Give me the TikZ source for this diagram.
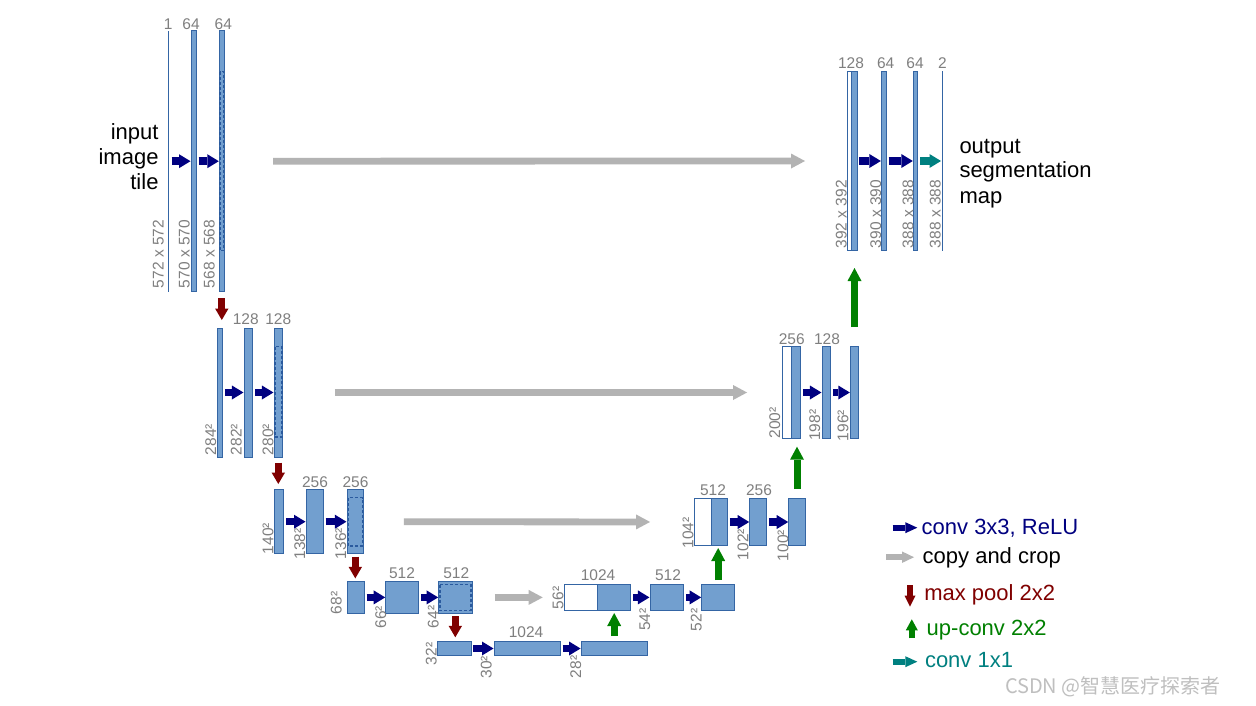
\documentclass[tikz,border=0pt]{standalone}
\usepackage{fontspec}
\setmainfont{Liberation Sans}
\newfontfamily\cjkfont{Noto Sans CJK SC}
\usetikzlibrary{arrows.meta}
\definecolor{barfill}{HTML}{729FCF}
\definecolor{barline}{HTML}{3465A4}
\definecolor{cropline}{HTML}{2A5A9E}
\definecolor{labgray}{HTML}{7F7F7F}
\definecolor{cpgray}{HTML}{B3B3B3}
\definecolor{cnavy}{HTML}{000080}
\definecolor{cred}{HTML}{800000}
\definecolor{cgreen}{HTML}{008000}
\definecolor{cteal}{HTML}{008080}
\begin{document}
\begin{tikzpicture}[x=1pt,y=-1pt,
  every node/.style={inner sep=0pt,outer sep=0pt},
  blk/.style={draw=barline,fill=barfill,line width=0.9pt},
  wblk/.style={draw=barline,fill=white,line width=0.9pt},
  thinbar/.style={fill=barline,draw=none,minimum width=1.6pt},
  cropbox/.style={draw=cropline,line width=1.4pt,dash pattern=on 3pt off 2pt},
  lab/.style={text=labgray,font=\fontsize{15.5}{18}\selectfont},
  vlab/.style={lab,rotate=90,anchor=base west},
  toplab/.style={lab,anchor=base},
  big/.style={font=\fontsize{22}{25}\selectfont},
  conv/.style={draw=cnavy,line width=7.5pt,-{Triangle[length=11.5pt,width=14pt,line width=0pt]},shorten <=2.5pt,shorten >=0.5pt},
  convone/.style={draw=cteal,line width=7.5pt,-{Triangle[length=11.5pt,width=14pt,line width=0pt]},shorten <=2.5pt,shorten >=0.5pt},
  copyc/.style={draw=cpgray,line width=6.8pt,-{Triangle[length=14pt,width=15pt,line width=0pt]}},
  pool/.style={draw=cred,line width=7pt,-{Triangle[length=11.5pt,width=13.5pt,line width=0pt]}},
  upc/.style={draw=cgreen,line width=7pt,-{Triangle[length=13pt,width=14pt,line width=0pt]}},
  lgconv/.style={draw=cnavy,line width=6pt,-{Triangle[length=12pt,width=11pt,line width=0pt]}},
  lgone/.style={draw=cteal,line width=6pt,-{Triangle[length=12pt,width=11pt,line width=0pt]}},
  lgcopy/.style={draw=cpgray,line width=6pt,-{Triangle[length=12pt,width=11.5pt,line width=0pt]}},
  lgpool/.style={draw=cred,line width=5.5pt,-{Triangle[length=11pt,width=11pt,line width=0pt]}},
  lgup/.style={draw=cgreen,line width=6pt,-{Triangle[length=11pt,width=12pt,line width=0pt]}},
]
\fill[white] (0,0) rectangle (1256,706);
\useasboundingbox (0,0) rectangle (1256,706);

% ---------- contracting path ----------
\node[thinbar,minimum height=261pt] (e11) at (168.3,161.2) {};
\node[blk,minimum width=5pt,minimum height=261pt] (e12) at (193.5,161.2) {};
\node[blk,minimum width=5pt,minimum height=261pt] (e13) at (221.8,161.2) {};
\draw[cropbox] (220,71.7) rectangle (223.6,250.7);

\node[blk,minimum width=4.8pt,minimum height=129pt] (e21) at (219.9,392.5) {};
\node[blk,minimum width=8.7pt,minimum height=129pt] (e22) at (248.3,392.5) {};
\node[blk,minimum width=8.7pt,minimum height=129pt] (e23) at (278.3,392.5) {};
\draw[cropbox] (274.8,346.7) rectangle (281.8,437);

\node[blk,minimum width=9.4pt,minimum height=64pt] (e31) at (279,521.7) {};
\node[blk,minimum width=17pt,minimum height=64pt] (e32) at (314.5,521.7) {};
\node[blk,minimum width=16.7pt,minimum height=64pt] (e33) at (355.3,521.7) {};
\draw[cropbox] (348.4,497.7) rectangle (362.2,546);

\node[blk,minimum width=17pt,minimum height=31.3pt] (e41) at (355.5,597.4) {};
\node[blk,minimum width=33pt,minimum height=31.3pt] (e42) at (402.2,597.4) {};
\node[blk,minimum width=33.3pt,minimum height=31.3pt] (e43) at (455.3,597.4) {};
\draw[cropbox] (439.8,584.6) rectangle (470.8,610.4);

\node[blk,minimum width=33.3pt,minimum height=14.4pt] (e51) at (454.3,648.5) {};
\node[blk,minimum width=66pt,minimum height=14.4pt] (e52) at (527,648.5) {};
\node[blk,minimum width=66.3pt,minimum height=14.4pt] (e53) at (614.2,648.5) {};

% ---------- expanding path ----------
\node[wblk,minimum width=33.4pt,minimum height=25.8pt] (w41) at (581,597.4) {};
\node[blk,minimum width=33pt,minimum height=25.8pt] (d41) at (614.2,597.4) {};
\node[blk,minimum width=33.7pt,minimum height=25.8pt] (d42) at (666.8,597.4) {};
\node[blk,minimum width=33pt,minimum height=25.8pt] (d43) at (718.2,597.4) {};

\node[wblk,minimum width=16.7pt,minimum height=47.4pt] (w31) at (702.7,522) {};
\node[blk,minimum width=16.3pt,minimum height=47.4pt] (d31) at (719.2,522) {};
\node[blk,minimum width=16.6pt,minimum height=47.4pt] (d32) at (758,522) {};
\node[blk,minimum width=16.6pt,minimum height=47.4pt] (d33) at (797,522) {};

\node[wblk,minimum width=8.7pt,minimum height=91.6pt] (w21) at (786.7,392.5) {};
\node[blk,minimum width=9.3pt,minimum height=91.6pt] (d21) at (795.7,392.5) {};
\node[blk,minimum width=8.7pt,minimum height=91.6pt] (d22) at (826.3,392.5) {};
\node[blk,minimum width=8.4pt,minimum height=91.6pt] (d23) at (854.5,392.5) {};

\node[wblk,minimum width=4.4pt,minimum height=179.4pt] (w11) at (849.5,161) {};
\node[blk,minimum width=5.3pt,minimum height=179.4pt] (d11) at (854.3,161) {};
\node[blk,minimum width=4.7pt,minimum height=179.4pt] (d12) at (883.7,161) {};
\node[blk,minimum width=4.4pt,minimum height=179.4pt] (d13) at (915.5,161) {};
\node[thinbar,minimum height=179.4pt] (d14) at (942.3,161) {};

% ---------- channel labels ----------
\node[toplab] (c11) at (168.3,29.5) {1};
\node[toplab] (c12) at (191,29.5) {64};
\node[toplab] (c13) at (223.3,29.5) {64};
\node[toplab] (c22) at (245.8,324) {128};
\node[toplab] (c23) at (278.3,324) {128};
\node[toplab] (c32) at (315,487.5) {256};
\node[toplab] (c33) at (355.5,487.5) {256};
\node[toplab] (c42) at (402,578.3) {512};
\node[toplab] (c43) at (456.3,578.3) {512};
\node[toplab] (c52) at (526,637) {1024};
\node[toplab] (u41) at (598,580) {1024};
\node[toplab] (u42) at (668,580) {512};
\node[toplab] (u31) at (713,495.7) {512};
\node[toplab] (u32) at (759,495.7) {256};
\node[toplab] (u21) at (791.7,344) {256};
\node[toplab] (u22) at (827,344) {128};
\node[toplab] (u11) at (851,68.3) {128};
\node[toplab] (u12) at (885.7,68.3) {64};
\node[toplab] (u13) at (915,68.3) {64};
\node[toplab] (u14) at (942.5,68.3) {2};

% ---------- size labels ----------
\node[vlab] (s11) at (163.5,288) {572 x 572};
\node[vlab] (s12) at (189.5,288) {570 x 570};
\node[vlab] (s13) at (214.5,288) {568 x 568};
\node[vlab] (s21) at (216,455) {284²};
\node[vlab] (s22) at (241.7,455) {282²};
\node[vlab] (s23) at (273.3,455) {280²};
\node[vlab] (s31) at (273.3,554) {140²};
\node[vlab] (s32) at (305,559.3) {138²};
\node[vlab] (s33) at (346,559) {136²};
\node[vlab] (s41) at (341.7,614) {68²};
\node[vlab] (s42) at (386,628.3) {66²};
\node[vlab] (s43) at (438.7,628) {64²};
\node[vlab] (s51) at (436.7,665) {32²};
\node[vlab] (s52) at (491.7,678.3) {30²};
\node[vlab] (s53) at (581,678) {28²};
\node[vlab] (t41) at (563.3,609) {56²};
\node[vlab] (t42) at (650,630.7) {54²};
\node[vlab] (t43) at (701.7,631) {52²};
\node[vlab] (t31) at (693.3,548.3) {104²};
\node[vlab] (t32) at (748.3,560) {102²};
\node[vlab] (t33) at (788.3,561) {100²};
\node[vlab] (t21) at (780,438.3) {200²};
\node[vlab] (t22) at (820,440.7) {198²};
\node[vlab] (t23) at (848.3,441) {196²};
\node[vlab] (t11) at (846.7,248.3) {392 x 392};
\node[vlab] (t12) at (881,248) {390 x 390};
\node[vlab] (t13) at (913.3,248) {388 x 388};
\node[vlab] (t14) at (940.7,248) {388 x 388};

% ---------- big texts ----------
\node[big,anchor=base east] (in1) at (158.5,139.5) {input};
\node[big,anchor=base east] (in2) at (158.5,164.5) {image};
\node[big,anchor=base east] (in3) at (158.5,189.5) {tile};
\node[big,anchor=base west] (out1) at (959.5,153.3) {output};
\node[big,anchor=base west] (out2) at (959.5,178) {segmentation};
\node[big,anchor=base west] (out3) at (959.5,203) {map};

% ---------- conv arrows ----------
\draw[conv] (e11.east) -- (e12.west);
\draw[conv] (e12.east) -- (e13.west);
\draw[conv] (e21.east) -- (e22.west);
\draw[conv] (e22.east) -- (e23.west);
\draw[conv] (e31.east) -- (e32.west);
\draw[conv] (e32.east) -- (e33.west);
\draw[conv] (e41.east) -- (e42.west);
\draw[conv] (e42.east) -- (e43.west);
\draw[conv] (e51.east) -- (e52.west);
\draw[conv] (e52.east) -- (e53.west);
\draw[conv] (d41.east) -- (d42.west);
\draw[conv] (d42.east) -- (d43.west);
\draw[conv] (d31.east) -- (d32.west);
\draw[conv] (d32.east) -- (d33.west);
\draw[conv] (d21.east) -- (d22.west);
\draw[conv] (d22.east) -- (d23.west);
\draw[conv] (d11.east) -- (d12.west);
\draw[conv] (d12.east) -- (d13.west);
\draw[convone] (d13.east) -- (d14.west);

% ---------- copy and crop ----------
\draw[copyc,shorten <=48.7pt,shorten >=42.3pt] (e13.east) -- (w11.west);
\draw[copyc,shorten <=52.3pt,shorten >=35.3pt] (e23.east) -- (w21.west);
\draw[copyc,shorten <=40.3pt,shorten >=44.3pt] (e33.east) -- (w31.west);
\draw[copyc,shorten <=23pt,shorten >=21.6pt] (e43.east) -- (w41.west);

% ---------- max pool ----------
\draw[pool,shorten <=6.3pt,shorten >=8pt] (e13.south) -- (e13.south |- e21.north);
\draw[pool,shorten <=5.7pt,shorten >=5.7pt] (e23.south) -- (e23.south |- e31.north);
\draw[pool,shorten <=3pt,shorten >=3.4pt] (e33.south) -- (e33.south |- e41.north);
\draw[pool,shorten <=3pt,shorten >=4pt] (e43.south) -- (e43.south |- e51.north);

% ---------- up-conv ----------
\draw[upc,shorten <=5.3pt,shorten >=2.7pt] (e53.north) -- (d41.south);
\draw[upc,shorten <=4.5pt,shorten >=2.3pt] (d43.north) -- (d43.north |- d31.south);
\draw[upc,shorten <=9.3pt,shorten >=8.4pt] (d33.north) -- (d33.north |- d21.south);
\draw[upc,shorten <=19.7pt,shorten >=17.3pt] (d23.north) -- (d23.north |- d11.south);

% ---------- legend ----------
\coordinate (lg1a) at (892.7,527.7); \coordinate (lg1b) at (917.3,527.7);
\coordinate (lg2a) at (886,557.2);   \coordinate (lg2b) at (914,557.2);
\coordinate (lg3a) at (910,585);     \coordinate (lg3b) at (910,606.7);
\coordinate (lg4a) at (911.8,638.3); \coordinate (lg4b) at (911.8,619.3);
\coordinate (lg5a) at (892.7,661.7); \coordinate (lg5b) at (917.3,661.7);
\draw[lgconv] (lg1a) -- (lg1b);
\draw[lgcopy] (lg2a) -- (lg2b);
\draw[lgpool] (lg3a) -- (lg3b);
\draw[lgup] (lg4a) -- (lg4b);
\draw[lgone] (lg5a) -- (lg5b);
\node[big,anchor=base west,text=cnavy] (lt1) at (921.7,534.3) {conv 3x3, ReLU};
\node[big,anchor=base west] (lt2) at (922.7,563.3) {copy and crop};
\node[big,anchor=base west,text=cred] (lt3) at (924.3,600.7) {max pool 2x2};
\node[big,anchor=base west,text=cgreen] (lt4) at (926.7,635) {up-conv 2x2};
\node[big,anchor=base west,text=cteal] (lt5) at (925,667.3) {conv 1x1};

% ---------- watermark ----------
\node[anchor=base west,text=black!25,font=\cjkfont\fontsize{20}{22}\selectfont] (wm) at (1005,693) {CSDN @智慧医疗探索者};
\end{tikzpicture}
\end{document}
